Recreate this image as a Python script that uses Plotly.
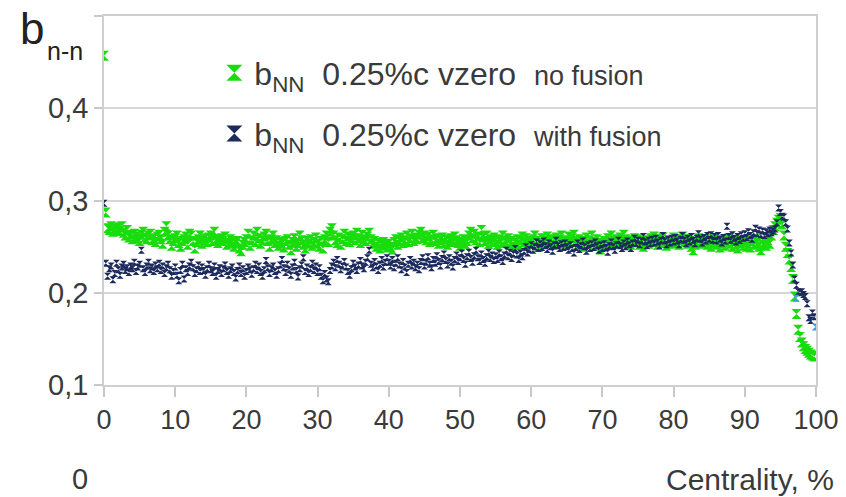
import plotly.graph_objects as go

# Centrality bins (0.25 % wide)
centrality = [i * 0.25 for i in range(400)]

b_no_fusion = [
    0.457, 0.287, 0.270, 0.268, 0.272, 0.266, 0.270, 0.268, 0.271, 0.267, 0.272, 0.265, 0.262, 0.268, 0.260, 0.263, 0.258, 0.264, 0.261, 0.259,
    0.256, 0.263, 0.266, 0.260, 0.258, 0.262, 0.264, 0.257, 0.259, 0.255, 0.261, 0.263, 0.258, 0.253, 0.266, 0.272, 0.262, 0.258, 0.251, 0.256,
    0.259, 0.262, 0.254, 0.250, 0.256, 0.258, 0.261, 0.252, 0.264, 0.262, 0.256, 0.248, 0.255, 0.258, 0.262, 0.253, 0.257, 0.259, 0.255, 0.260,
    0.262, 0.256, 0.266, 0.258, 0.254, 0.257, 0.259, 0.256, 0.261, 0.252, 0.254, 0.258, 0.255, 0.250, 0.253, 0.256, 0.248, 0.245, 0.252, 0.255,
    0.258, 0.264, 0.251, 0.257, 0.262, 0.255, 0.266, 0.259, 0.253, 0.257, 0.261, 0.264, 0.256, 0.250, 0.258, 0.262, 0.254, 0.257, 0.251, 0.255,
    0.253, 0.249, 0.256, 0.258, 0.252, 0.246, 0.255, 0.259, 0.250, 0.254, 0.262, 0.257, 0.252, 0.248, 0.256, 0.253, 0.258, 0.251, 0.255, 0.260,
    0.253, 0.250, 0.256, 0.248, 0.258, 0.262, 0.255, 0.266, 0.270, 0.262, 0.257, 0.254, 0.260, 0.252, 0.258, 0.264, 0.256, 0.261, 0.255, 0.259,
    0.262, 0.257, 0.265, 0.259, 0.254, 0.263, 0.258, 0.256, 0.261, 0.265, 0.258, 0.253, 0.256, 0.250, 0.254, 0.248, 0.252, 0.255, 0.251, 0.249,
    0.253, 0.250, 0.247, 0.255, 0.258, 0.252, 0.256, 0.260, 0.254, 0.257, 0.262, 0.255, 0.259, 0.264, 0.256, 0.260, 0.258, 0.263, 0.266, 0.259,
    0.262, 0.257, 0.261, 0.255, 0.258, 0.263, 0.256, 0.259, 0.253, 0.257, 0.260, 0.254, 0.258, 0.252, 0.256, 0.259, 0.255, 0.261, 0.257, 0.254,
    0.251, 0.255, 0.258, 0.253, 0.256, 0.262, 0.266, 0.259, 0.264, 0.257, 0.261, 0.255, 0.268, 0.260, 0.256, 0.262, 0.253, 0.258, 0.255, 0.260,
    0.256, 0.252, 0.258, 0.254, 0.262, 0.257, 0.255, 0.259, 0.253, 0.256, 0.250, 0.254, 0.258, 0.252, 0.257, 0.261, 0.255, 0.259, 0.253, 0.256,
    0.254, 0.258, 0.262, 0.256, 0.250, 0.254, 0.259, 0.253, 0.257, 0.261, 0.255, 0.258, 0.252, 0.256, 0.260, 0.254, 0.258, 0.262, 0.256, 0.253,
    0.257, 0.261, 0.255, 0.259, 0.263, 0.256, 0.252, 0.258, 0.254, 0.250, 0.256, 0.260, 0.253, 0.257, 0.262, 0.255, 0.251, 0.258, 0.254, 0.247,
    0.250, 0.256, 0.253, 0.259, 0.255, 0.262, 0.257, 0.253, 0.258, 0.254, 0.260, 0.256, 0.263, 0.258, 0.254, 0.257, 0.252, 0.256, 0.259, 0.255,
    0.258, 0.252, 0.256, 0.250, 0.254, 0.257, 0.253, 0.259, 0.255, 0.261, 0.256, 0.252, 0.258, 0.254, 0.260, 0.255, 0.251, 0.257, 0.253, 0.256,
    0.260, 0.254, 0.258, 0.252, 0.257, 0.261, 0.255, 0.258, 0.253, 0.256, 0.250, 0.246, 0.252, 0.255, 0.259, 0.253, 0.257, 0.254, 0.258, 0.252,
    0.256, 0.250, 0.254, 0.258, 0.252, 0.255, 0.249, 0.253, 0.257, 0.251, 0.255, 0.259, 0.253, 0.250, 0.256, 0.252, 0.248, 0.254, 0.257, 0.251,
    0.255, 0.250, 0.253, 0.249, 0.256, 0.252, 0.258, 0.254, 0.250, 0.246, 0.252, 0.255, 0.251, 0.257, 0.253, 0.262, 0.268, 0.272, 0.276, 0.279,
    0.281, 0.274, 0.262, 0.250, 0.243, 0.236, 0.228, 0.215, 0.196, 0.177, 0.160, 0.152, 0.146, 0.142, 0.139, 0.137, 0.135, 0.133, 0.132, 0.131,
]

b_with_fusion = [
    0.297, 0.232, 0.218, 0.226, 0.229, 0.214, 0.221, 0.232, 0.225, 0.219, 0.228, 0.231, 0.224, 0.227, 0.222, 0.229, 0.226, 0.233, 0.223, 0.228,
    0.231, 0.246, 0.226, 0.222, 0.229, 0.233, 0.225, 0.228, 0.223, 0.230, 0.226, 0.232, 0.224, 0.229, 0.221, 0.227, 0.231, 0.225, 0.218, 0.223,
    0.228, 0.219, 0.213, 0.224, 0.231, 0.215, 0.226, 0.222, 0.229, 0.233, 0.227, 0.221, 0.225, 0.230, 0.223, 0.228, 0.224, 0.219, 0.226, 0.231,
    0.225, 0.222, 0.229, 0.218, 0.224, 0.227, 0.221, 0.226, 0.230, 0.223, 0.219, 0.225, 0.228, 0.222, 0.216, 0.224, 0.229, 0.221, 0.226, 0.218,
    0.223, 0.228, 0.225, 0.220, 0.226, 0.231, 0.224, 0.229, 0.222, 0.218, 0.225, 0.235, 0.227, 0.221, 0.226, 0.229, 0.223, 0.219, 0.225, 0.230,
    0.236, 0.227, 0.222, 0.231, 0.225, 0.219, 0.228, 0.233, 0.224, 0.217, 0.226, 0.230, 0.238, 0.223, 0.228, 0.221, 0.226, 0.232, 0.224, 0.229,
    0.222, 0.227, 0.218, 0.213, 0.221, 0.215, 0.212, 0.224, 0.229, 0.233, 0.227, 0.236, 0.231, 0.225, 0.229, 0.234, 0.228, 0.223, 0.219, 0.226,
    0.232, 0.228, 0.224, 0.230, 0.235, 0.229, 0.226, 0.233, 0.238, 0.246, 0.231, 0.227, 0.234, 0.229, 0.224, 0.231, 0.236, 0.228, 0.233, 0.238,
    0.233, 0.229, 0.236, 0.227, 0.232, 0.238, 0.230, 0.225, 0.234, 0.228, 0.222, 0.231, 0.236, 0.229, 0.233, 0.227, 0.231, 0.225, 0.234, 0.238,
    0.229, 0.233, 0.239, 0.231, 0.227, 0.236, 0.232, 0.240, 0.234, 0.229, 0.237, 0.242, 0.235, 0.230, 0.238, 0.233, 0.228, 0.236, 0.241, 0.234,
    0.238, 0.243, 0.236, 0.231, 0.239, 0.244, 0.237, 0.233, 0.240, 0.246, 0.238, 0.234, 0.242, 0.236, 0.232, 0.239, 0.244, 0.237, 0.241, 0.235,
    0.240, 0.236, 0.243, 0.238, 0.234, 0.241, 0.246, 0.239, 0.244, 0.237, 0.242, 0.248, 0.241, 0.236, 0.243, 0.239, 0.245, 0.250, 0.243, 0.247,
    0.252, 0.246, 0.250, 0.255, 0.248, 0.253, 0.249, 0.256, 0.251, 0.247, 0.254, 0.250, 0.245, 0.252, 0.257, 0.251, 0.248, 0.253, 0.249, 0.254,
    0.250, 0.246, 0.252, 0.248, 0.243, 0.249, 0.254, 0.247, 0.251, 0.256, 0.250, 0.245, 0.252, 0.248, 0.253, 0.249, 0.255, 0.251, 0.246, 0.252,
    0.248, 0.253, 0.249, 0.244, 0.251, 0.255, 0.250, 0.246, 0.252, 0.257, 0.251, 0.248, 0.254, 0.250, 0.256, 0.252, 0.248, 0.254, 0.259, 0.253,
    0.257, 0.252, 0.256, 0.261, 0.255, 0.251, 0.257, 0.253, 0.258, 0.254, 0.259, 0.255, 0.251, 0.257, 0.262, 0.256, 0.252, 0.258, 0.254, 0.259,
    0.255, 0.260, 0.256, 0.252, 0.258, 0.262, 0.257, 0.253, 0.259, 0.255, 0.261, 0.257, 0.253, 0.259, 0.264, 0.258, 0.254, 0.260, 0.256, 0.262,
    0.258, 0.263, 0.257, 0.261, 0.256, 0.262, 0.258, 0.254, 0.260, 0.256, 0.272, 0.261, 0.257, 0.263, 0.259, 0.255, 0.261, 0.257, 0.263, 0.259,
    0.264, 0.260, 0.266, 0.262, 0.258, 0.265, 0.270, 0.264, 0.268, 0.263, 0.267, 0.262, 0.266, 0.264, 0.268, 0.265, 0.267, 0.269, 0.276, 0.292,
    0.287, 0.283, 0.282, 0.276, 0.269, 0.254, 0.243, 0.230, 0.215, 0.208, 0.201, 0.200, 0.201, 0.198, 0.196, 0.188, 0.173, 0.170, 0.178, 0.174,
]

# a couple of light-blue points visible near the drop
extra_x = [97.2, 99.9]
extra_y = [0.194, 0.163]

y_tickvals = [0.1, 0.2, 0.3, 0.4, 0.5]
y_ticktext = ["0,1", "0,2", "0,3", "0,4", ""]
x_tickvals = [0, 10, 20, 30, 40, 50, 60, 70, 80, 90, 100]

GREEN = "#19dc0c"
NAVY = "#1c2a5e"
LIGHTBLUE = "#3d9be9"
FONT = "Liberation Sans, Arial, sans-serif"
TXT = "#3a3a3a"

fig = go.Figure()

# data traces
fig.add_trace(go.Scatter(
    x=centrality, y=b_no_fusion, mode="markers", showlegend=False,
    marker=dict(symbol="hourglass", size=10, color=GREEN, line=dict(width=0)),
))
fig.add_trace(go.Scatter(
    x=centrality, y=b_with_fusion, mode="markers", showlegend=False,
    marker=dict(symbol="hourglass", size=7, color=NAVY, line=dict(width=0)),
))
fig.add_trace(go.Scatter(
    x=extra_x, y=extra_y, mode="markers", showlegend=False,
    marker=dict(symbol="hourglass", size=7, color=LIGHTBLUE, line=dict(width=0)),
))

# legend entries
fig.add_trace(go.Scatter(
    x=[None], y=[None], mode="markers", legendgroup="a",
    name="b<sub>NN</sub>&nbsp;&nbsp;0.25%c vzero&nbsp;&nbsp;<span style='font-size:27px'>no fusion</span>",
    marker=dict(symbol="hourglass", size=16, color=GREEN, line=dict(width=0)),
))
fig.add_trace(go.Scatter(
    x=[None], y=[None], mode="markers", legendgroup="b",
    name="b<sub>NN</sub>&nbsp;&nbsp;0.25%c vzero&nbsp;&nbsp;<span style='font-size:27px'>with fusion</span>",
    marker=dict(symbol="hourglass", size=16, color=NAVY, line=dict(width=0)),
))

# The page body adds an 8px margin, so the figure is made 8px smaller and
# the margins shifted to keep the plot area where the reference has it.
fig.update_layout(
    width=838, height=489,
    margin=dict(l=96, r=30, t=6, b=112),
    paper_bgcolor="white", plot_bgcolor="white",
    font=dict(family=FONT, color=TXT),
    legend=dict(
        x=0.155, y=0.92, xanchor="left", yanchor="top",
        font=dict(size=32, family=FONT, color=TXT),
        bgcolor="rgba(0,0,0,0)", traceorder="grouped", tracegroupgap=16,
        itemwidth=30,
    ),
    xaxis=dict(
        range=[0, 100], tickvals=x_tickvals, ticks="outside", ticklen=10,
        tickcolor="#c8c8c8", tickwidth=1.5,
        showgrid=False, zeroline=False,
        showline=True, linecolor="#cfcfcf", linewidth=1.5, mirror=True,
        tickfont=dict(size=27, family=FONT, color=TXT),
    ),
    yaxis=dict(
        range=[0.1, 0.5], tickvals=y_tickvals, ticktext=y_ticktext,
        ticks="outside", ticklen=8, tickcolor="#c8c8c8", tickwidth=1.5,
        showgrid=True, gridcolor="#d6d6d6", gridwidth=1.5, zeroline=False,
        showline=True, linecolor="#cfcfcf", linewidth=1.5, mirror=True,
        tickfont=dict(size=29, family=FONT, color=TXT),
    ),
    annotations=[
        dict(text="b", xref="paper", yref="paper", x=-0.121, y=0.966,
             xanchor="left", yanchor="middle", showarrow=False,
             font=dict(size=44, family=FONT, color="#222")),
        dict(text="n-n", xref="paper", yref="paper", x=-0.083, y=0.905,
             xanchor="left", yanchor="middle", showarrow=False,
             font=dict(size=25, family=FONT, color="#222")),
        dict(text="Centrality, %", xref="paper", yref="paper", x=1.028, y=-0.255,
             xanchor="right", yanchor="middle", showarrow=False,
             font=dict(size=30, family=FONT, color=TXT)),
        dict(text="0", xref="paper", yref="paper", x=-0.034, y=-0.256,
             xanchor="center", yanchor="middle", showarrow=False,
             font=dict(size=29, family=FONT, color=TXT)),
    ],
)

fig.write_html("out.html", config={"displayModeBar": False})
